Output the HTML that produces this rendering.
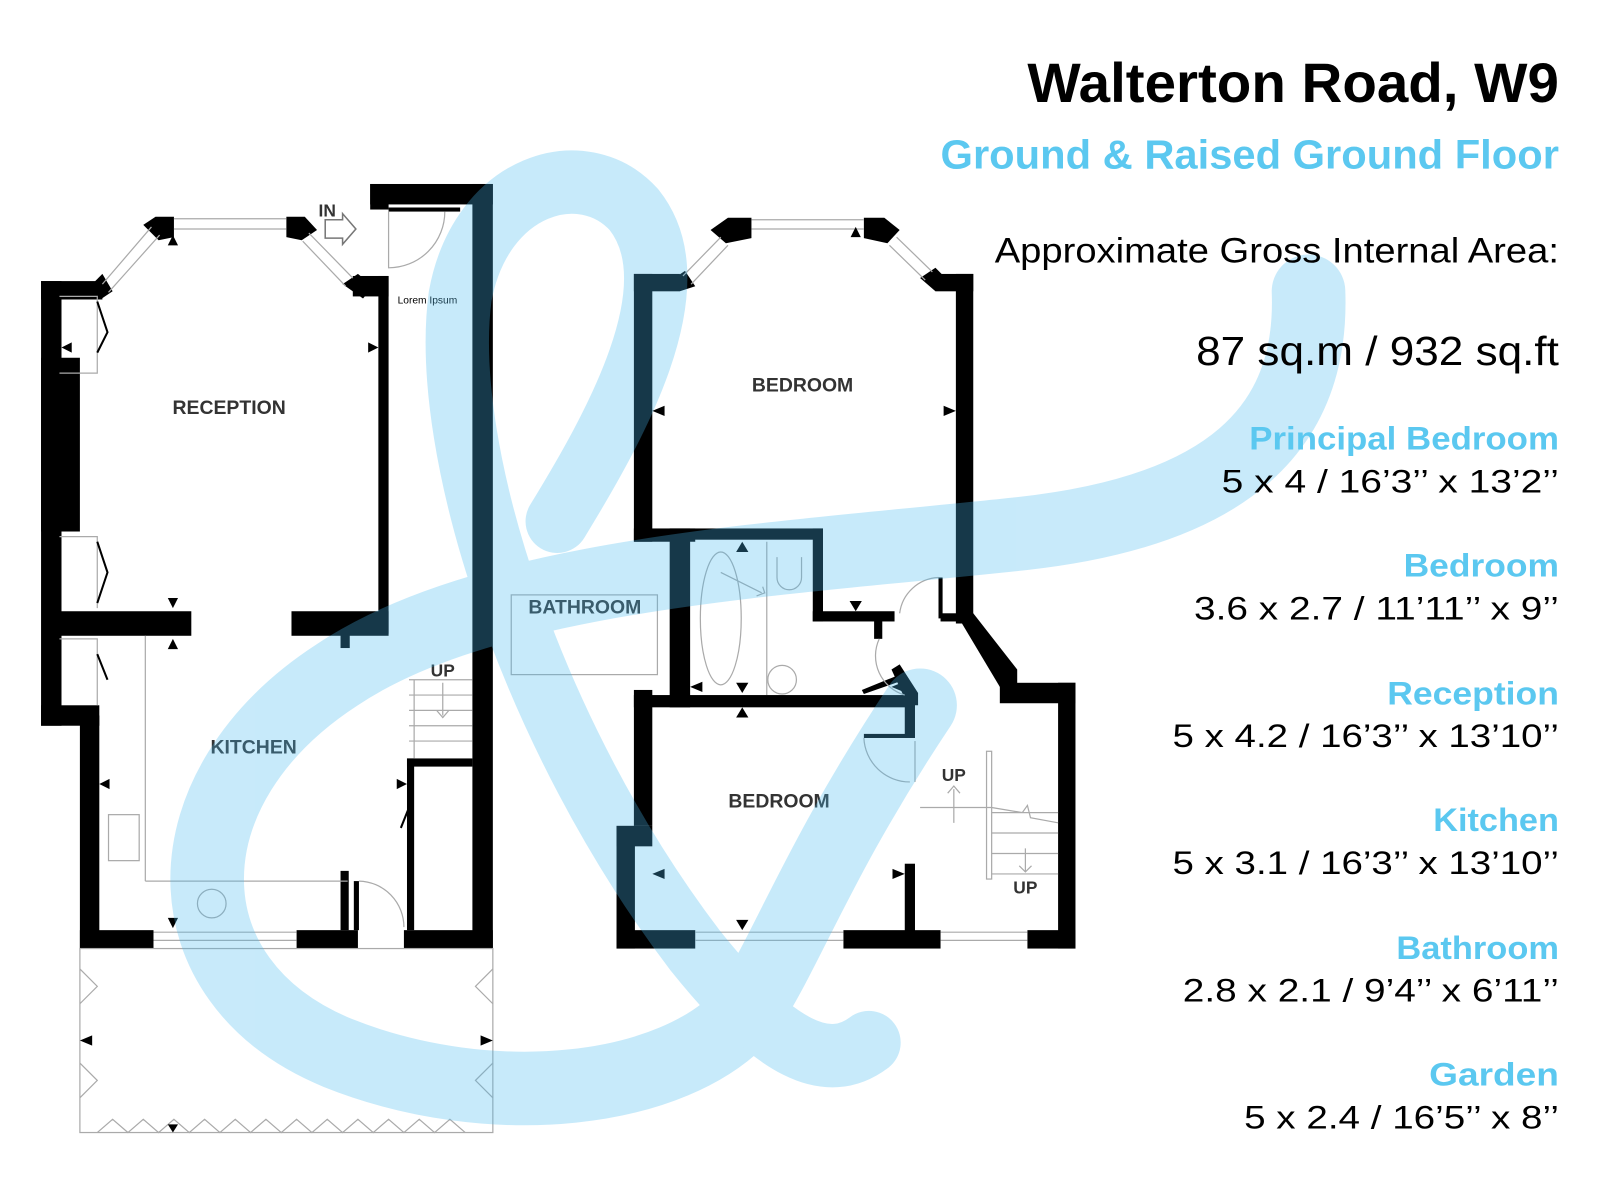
<!DOCTYPE html>
<html><head><meta charset="utf-8"><style>
html,body{margin:0;padding:0;background:#fff;width:1600px;height:1200px;overflow:hidden}
svg{display:block}
.lbl{font-family:"Liberation Sans",sans-serif;font-size:19px;fill:#333;font-weight:bold;text-anchor:middle}
.t{font-family:"Liberation Sans",sans-serif;text-anchor:end}
.g{stroke:#aaa;stroke-width:1.2;fill:none}
</style></head><body>
<svg width="1600" height="1200" viewBox="0 0 1565 1174" xmlns="http://www.w3.org/2000/svg">
<rect width="1565" height="1174" fill="#fff"/>
<!-- LEFT UNIT -->
<g fill="#000">
<rect x="40" y="275" width="20" height="435"/>
<rect x="40" y="350" width="38" height="170"/>
<rect x="40" y="690" width="57" height="20"/>
<rect x="78" y="700" width="19" height="228"/>
<rect x="40" y="275" width="60" height="18"/>
<rect x="58" y="598" width="129" height="24"/>
<rect x="285" y="598" width="95" height="24"/>
<rect x="333" y="620" width="9" height="14"/>
<rect x="370" y="270" width="10" height="350"/>
<rect x="345" y="270" width="35" height="20"/>
<rect x="362" y="180" width="120" height="20"/>
<rect x="362" y="180" width="18" height="25"/>
<rect x="462" y="180" width="20" height="748"/>
<rect x="78" y="910" width="72" height="18"/>
<rect x="290" y="910" width="60" height="18"/>
<rect x="395" y="910" width="87" height="18"/>
<rect x="398" y="742" width="7" height="168"/>
<rect x="398" y="742" width="64" height="8"/>
<rect x="333" y="852" width="8" height="58"/>
<rect x="346" y="862" width="5" height="48"/>
<rect x="380" y="203" width="70" height="4"/>
<polygon points="88,280 100,268 110,285 98,293"/>
<polygon points="140,220 152,212 170,212 170,232 155,235"/>
<polygon points="280,212 298,212 310,225 295,235 280,232"/>
<polygon points="335,278 350,268 365,280 355,292"/>
</g>
<g class="g">
<line x1="100" y1="278" x2="148" y2="222"/><line x1="106" y1="286" x2="156" y2="230"/>
<line x1="170" y1="214" x2="280" y2="214"/><line x1="170" y1="224" x2="280" y2="224"/>
<line x1="302" y1="228" x2="345" y2="272"/><line x1="296" y1="236" x2="338" y2="280"/>
<line x1="150" y1="912" x2="290" y2="912"/><line x1="150" y1="920" x2="290" y2="920"/>
<line x1="142" y1="622" x2="142" y2="862"/><line x1="142" y1="862" x2="340" y2="862"/>
<rect x="106" y="797" width="30" height="45"/>
<circle cx="207" cy="884" r="14"/>
<path d="M400 665 L462 665 M400 680 L462 680 M400 695 L462 695 M400 710 L462 710 M400 725 L462 725 M405 665 L405 742"/>
<path d="M433 668 L433 700 M427 695 L433 702 L439 695"/>
<path d="M380 207 L380 262 A55 55 0 0 0 435 207"/>
<path d="M351 862 A45 45 0 0 1 395 907"/>
<rect x="78" y="928" width="404" height="180"/>
<path d="M78 948 L95 965 L78 982 M78 1040 L95 1057 L78 1074 M482 948 L465 965 L482 982 M482 1040 L465 1057 L482 1074"/>
<path d="M95 1108 L110 1095 L125 1108 L140 1095 L155 1108 L170 1095 L185 1108 L200 1095 L215 1108 L230 1095 L245 1108 L260 1095 L275 1108 L290 1095 L305 1108 L320 1095 L335 1108 L350 1095 L365 1108 L380 1095 L395 1108 L410 1095 L425 1108 L440 1095 L455 1108"/>
<path d="M58 290 L95 290 L95 365 L58 365 M58 525 L95 525 L95 595 M58 625 L95 625 L95 690"/>
</g>
<g stroke="#000" stroke-width="2" fill="none">
<path d="M95 295 L105 325 L95 345 M95 530 L105 560 L95 590 M95 640 L105 665"/>
<path d="M400 790 L392 810"/>
</g>
<g fill="#000">
<polygon points="164,240 174,240 169,230"/><polygon points="60,340 70,335 70,345"/>
<polygon points="370,340 360,335 360,345"/><polygon points="164,585 174,585 169,595"/>
<polygon points="164,635 174,635 169,625"/><polygon points="97,767 107,762 107,772"/>
<polygon points="398,767 388,762 388,772"/><polygon points="164,898 174,898 169,908"/>
<polygon points="78,1018 90,1013 90,1023"/><polygon points="482,1018 470,1013 470,1023"/>
<polygon points="164,1100 174,1100 169,1108"/>
</g>
<path d="M318 215 L335 215 L335 209 L348 224 L335 239 L335 233 L318 233 Z" fill="#fff" stroke="#777" stroke-width="1.5"/>
<!-- RIGHT UNIT -->
<g fill="#000">
<rect x="620" y="268" width="18" height="262"/>
<rect x="620" y="268" width="45" height="17"/>
<rect x="620" y="517" width="60" height="13"/>
<rect x="655" y="517" width="20" height="175"/>
<rect x="655" y="517" width="150" height="11"/>
<rect x="795" y="517" width="10" height="91"/>
<rect x="795" y="598" width="80" height="10"/>
<rect x="855" y="605" width="8" height="20"/>
<rect x="915" y="268" width="37" height="17"/>
<rect x="935" y="268" width="17" height="342"/>
<rect x="920" y="600" width="32" height="8"/>
<rect x="918" y="565" width="4" height="40"/>
<polygon points="935,600 952,600 995,655 995,672 978,672"/>
<rect x="978" y="668" width="74" height="20"/>
<rect x="1035" y="668" width="17" height="260"/>
<rect x="620" y="680" width="275" height="12"/>
<rect x="885" y="680" width="10" height="42"/>
<rect x="845" y="718" width="42" height="4"/>
<rect x="885" y="845" width="10" height="70"/>
<rect x="620" y="675" width="18" height="133"/>
<rect x="603" y="808" width="35" height="20"/>
<rect x="603" y="808" width="18" height="120"/>
<rect x="603" y="910" width="77" height="18"/>
<rect x="825" y="910" width="95" height="18"/>
<rect x="1005" y="910" width="47" height="18"/>
<polygon points="843,675 880,660 882,666 845,679"/>
<polygon points="872,655 880,650 898,678 898,690 888,690"/>
<polygon points="695,225 712,213 735,213 735,233 710,238"/>
<polygon points="845,213 865,213 880,225 868,238 845,233"/>
<polygon points="655,275 670,265 680,280 665,285"/>
<polygon points="900,272 915,262 925,272 915,285"/>
</g>
<g class="g">
<line x1="668" y1="270" x2="705" y2="232"/><line x1="676" y1="278" x2="712" y2="240"/>
<line x1="735" y1="215" x2="845" y2="215"/><line x1="735" y1="224" x2="845" y2="224"/>
<line x1="877" y1="232" x2="912" y2="266"/><line x1="870" y1="240" x2="905" y2="274"/>
<line x1="680" y1="912" x2="825" y2="912"/><line x1="680" y1="920" x2="825" y2="920"/>
<line x1="920" y1="912" x2="1005" y2="912"/><line x1="920" y1="920" x2="1005" y2="920"/>
<ellipse cx="705" cy="605" rx="20" ry="65"/>
<line x1="750" y1="530" x2="750" y2="680"/>
<path d="M760 545 L760 565 A12 12 0 0 0 784 565 L784 545"/>
<circle cx="765" cy="665" r="14"/>
<path d="M705 560 L745 580 M740 583 L748 580 L746 574"/>
<rect x="500" y="582" width="143" height="78"/>
<path d="M860 625 A40 40 0 0 0 885 680"/>
<path d="M918 565 A40 40 0 0 0 880 600"/>
<path d="M845 722 A45 45 0 0 0 890 765"/>
<line x1="895" y1="725" x2="895" y2="765"/>
<rect x="965" y="735" width="5" height="125"/>
<path d="M970 795 L1035 795 M970 815 L1035 815 M970 835 L1035 835 M970 855 L1035 855 M900 790 L970 790 M970 790 L1000 795 L1005 788 L1008 800 L1035 805"/>
<path d="M933 772 L933 805 M927 776 L933 769 L939 776"/>
<path d="M1003 830 L1003 852 M997 847 L1003 853 L1009 847"/>
</g>
<g fill="#000">
<polygon points="832,232 842,232 837,222"/><polygon points="638,402 650,397 650,407"/>
<polygon points="935,402 923,397 923,407"/><polygon points="720,540 732,540 726,530"/>
<polygon points="831,588 843,588 837,598"/><polygon points="675,672 687,667 687,677"/>
<polygon points="720,668 732,668 726,678"/><polygon points="720,702 732,702 726,692"/>
<polygon points="872,672 884,667 884,677" /><polygon points="638,855 650,850 650,860"/>
<polygon points="885,855 873,850 873,860"/><polygon points="720,900 732,900 726,910"/>
</g>
<!-- labels -->
<text class="lbl" x="224" y="405">RECEPTION</text>
<text class="lbl" x="248" y="737" fill="#336">KITCHEN</text>
<text class="lbl" x="785" y="383">BEDROOM</text>
<text class="lbl" x="762" y="790">BEDROOM</text>
<text class="lbl" x="572" y="600">BATHROOM</text>
<text class="lbl" x="320" y="212" style="font-size:17px">IN</text>
<text class="lbl" x="433" y="662" style="font-size:17px">UP</text>
<text class="lbl" x="933" y="764" style="font-size:17px">UP</text>
<text class="lbl" x="1003" y="874" style="font-size:17px">UP</text>
<text x="418" y="297" style="font-family:'Liberation Sans',sans-serif;font-size:10px;text-anchor:middle">Lorem Ipsum</text>
<!-- watermark -->
<g opacity="0.3" fill="none" stroke="rgb(73,187,240)" stroke-linecap="round">
<path d="M1280 285 C1285 420 1200 500 1000 522 C760 548 480 560 330 660 C160 770 160 960 330 1030 C480 1090 660 1070 730 990 C770 930 800 840 900 690" stroke-width="72"/>
<path d="M545 510 C600 420 680 280 620 205 C570 150 470 180 450 290 C430 440 520 720 680 930 C760 1030 810 1050 850 1020" stroke-width="62"/>
</g>
<!-- text -->
<text class="t" x="1525" y="100" font-weight="bold" font-size="54" textLength="520" lengthAdjust="spacingAndGlyphs">Walterton Road, W9</text>
<text class="t" x="1525" y="165" font-weight="bold" font-size="40" fill="#5bc8f0" textLength="605" lengthAdjust="spacingAndGlyphs">Ground &amp; Raised Ground Floor</text>
<text class="t" x="1525" y="257" font-size="34" textLength="552" lengthAdjust="spacingAndGlyphs">Approximate Gross Internal Area:</text>
<text class="t" x="1525" y="357" font-size="40" textLength="355" lengthAdjust="spacingAndGlyphs">87 sq.m / 932 sq.ft</text>
<g font-size="32">
<text class="t" x="1525" y="440" font-weight="bold" fill="#5bc8f0" textLength="303" lengthAdjust="spacingAndGlyphs">Principal Bedroom</text>
<text class="t" x="1525" y="482" textLength="330" lengthAdjust="spacingAndGlyphs">5 x 4 / 16’3’’ x 13’2’’</text>
<text class="t" x="1525" y="564" font-weight="bold" fill="#5bc8f0" textLength="152" lengthAdjust="spacingAndGlyphs">Bedroom</text>
<text class="t" x="1525" y="606" textLength="357" lengthAdjust="spacingAndGlyphs">3.6 x 2.7 / 11’11’’ x 9’’</text>
<text class="t" x="1525" y="689" font-weight="bold" fill="#5bc8f0" textLength="168" lengthAdjust="spacingAndGlyphs">Reception</text>
<text class="t" x="1525" y="731" textLength="378" lengthAdjust="spacingAndGlyphs">5 x 4.2 / 16’3’’ x 13’10’’</text>
<text class="t" x="1525" y="813" font-weight="bold" fill="#5bc8f0" textLength="123" lengthAdjust="spacingAndGlyphs">Kitchen</text>
<text class="t" x="1525" y="855" textLength="378" lengthAdjust="spacingAndGlyphs">5 x 3.1 / 16’3’’ x 13’10’’</text>
<text class="t" x="1525" y="938" font-weight="bold" fill="#5bc8f0" textLength="159" lengthAdjust="spacingAndGlyphs">Bathroom</text>
<text class="t" x="1525" y="980" textLength="368" lengthAdjust="spacingAndGlyphs">2.8 x 2.1 / 9’4’’ x 6’11’’</text>
<text class="t" x="1525" y="1062" font-weight="bold" fill="#5bc8f0" textLength="127" lengthAdjust="spacingAndGlyphs">Garden</text>
<text class="t" x="1525" y="1104" textLength="308" lengthAdjust="spacingAndGlyphs">5 x 2.4 / 16’5’’ x 8’’</text>
</g>
</svg>
</body></html>
